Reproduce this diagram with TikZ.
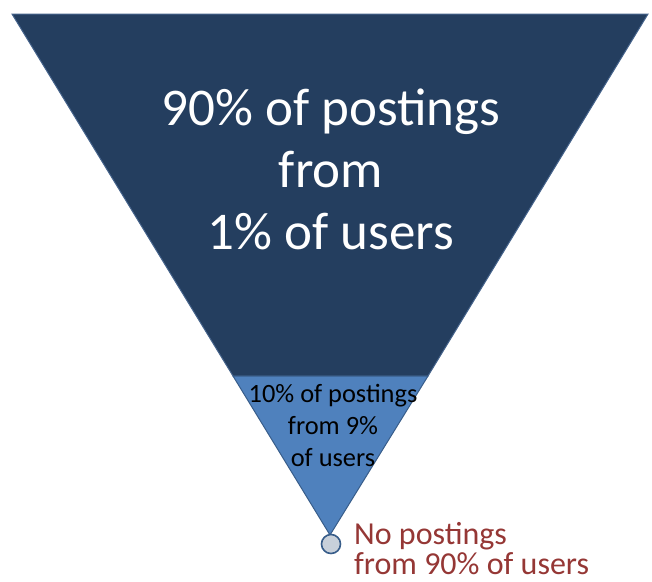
\documentclass[tikz,border=0pt]{standalone}
\usepackage{fontspec}
\setmainfont{Carlito}
\definecolor{navy}{RGB}{36,62,95}
\definecolor{navyedge}{RGB}{70,100,140}
\definecolor{midblue}{RGB}{79,129,189}
\definecolor{midedge}{RGB}{56,93,138}
\definecolor{dotfill}{RGB}{200,208,218}
\definecolor{darkred}{RGB}{149,55,53}
\begin{document}
\begin{tikzpicture}[x=1pt,y=-1pt,
  bigtext/.style={text=white,align=center,font=\fontsize{53}{62}\selectfont,inner sep=0pt},
  smalltext/.style={text=black,align=center,font=\fontsize{26.4}{32}\selectfont,inner sep=0pt},
  redtext/.style={text=darkred,align=left,font=\fontsize{32}{30}\selectfont,inner sep=0pt,anchor=north west}]
\useasboundingbox (0,0) rectangle (652,581);
% shapes
\coordinate (tl) at (12,14);
\coordinate (tr) at (648,14);
\coordinate (ml) at (233,376);
\coordinate (mr) at (428,376);
\coordinate (apex) at (330,535);
\fill[navy,draw=navyedge,line width=1pt] (tl) -- (tr) -- (mr) -- (ml) -- cycle;
\fill[midblue,draw=midedge,line width=1pt] (ml) -- (mr) -- (apex) -- cycle;
\node[circle,minimum size=19pt,inner sep=0pt,fill=dotfill,draw=midedge,line width=1.6pt] (dot) at (331,544) {};
% texts
\node[bigtext] (big) at (331,169) {90\% of postings\\from\\1\% of users};
\node[smalltext] (small) at (333,425) {10\% of postings\\from 9\%\\of users};
\node[redtext] (red) at (354,522) {No postings\\from 90\% of users};
\end{tikzpicture}
\end{document}
